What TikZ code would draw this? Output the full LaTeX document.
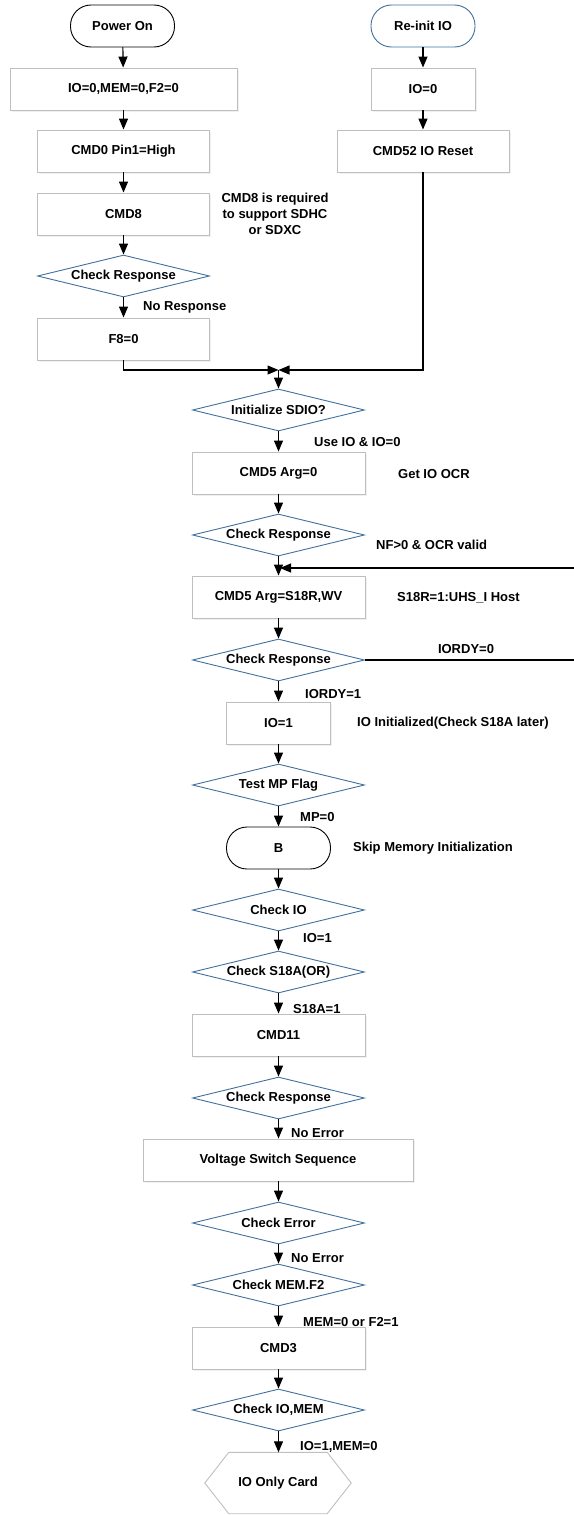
\documentclass[tikz,border=0pt]{standalone}
\usepackage{fontspec}
\setmainfont{Liberation Sans}
\usetikzlibrary{arrows.meta,shapes.geometric,shadows}
\definecolor{boxgray}{HTML}{BFBFBF}
\definecolor{dblue}{HTML}{41719C}
\tikzset{
  txt/.style={font=\bfseries\fontsize{13}{16}\selectfont, inner sep=0pt},
  proc/.style={txt, draw=boxgray, line width=0.9pt, fill=white, minimum height=42pt,
    drop shadow={shadow xshift=1.5pt, shadow yshift=-1.5pt, opacity=0.12}},
  term/.style={txt, draw=black, line width=0.9pt, fill=white, rounded corners=20.5pt,
    minimum width=104pt, minimum height=42pt},
  dec/.style={txt, shape=diamond, draw=dblue, line width=0.9pt, fill=white,
    minimum width=172pt, minimum height=42pt, aspect=4.1},
  lbl/.style={txt, anchor=west},
  arr/.style={line width=1.2pt, -{Triangle[length=11pt,width=9pt]}},
  conn/.style={line width=1.2pt}
}
\begin{document}
\begin{tikzpicture}[x=1pt,y=-1pt]
\useasboundingbox (0,0) rectangle (573,1515);

% left column
\node[term] (po) at (122.5,26) {Power On};
\node[proc, minimum width=227pt] (init) at (123.5,89) {IO=0,MEM=0,F2=0};
\node[proc, minimum width=172pt] (cmd0) at (123.5,151) {CMD0 Pin1=High};
\node[proc, minimum width=172pt] (cmd8) at (123.5,214) {CMD8};
\node[dec] (cr1) at (123.5,276) {Check Response};
\node[proc, minimum width=172pt] (f8) at (123.5,339) {F8=0};

% right column
\node[term, draw=dblue] (reinit) at (423,26) {Re-init IO};
\node[proc, minimum width=104pt] (io0) at (423,89) {IO=0};
\node[proc, minimum width=172pt] (cmd52) at (423,151) {CMD52 IO Reset};

% main column
\node[dec] (isd) at (278.5,410) {Initialize SDIO?};
\node[proc, minimum width=173pt] (cmd5a) at (278.5,473) {CMD5 Arg=0};
\node[dec] (cr2) at (278.5,535) {Check Response};
\node[proc, minimum width=173pt] (cmd5b) at (278.5,597) {CMD5 Arg=S18R,WV};
\node[dec] (cr3) at (278.5,660) {Check Response};
\node[proc, minimum width=104pt] (io1) at (278.5,723) {IO=1};
\node[dec] (mp) at (278.5,785) {Test MP Flag};
\node[term] (b) at (278.5,848) {B};
\node[dec] (chkio) at (278.5,910) {Check IO};
\node[dec] (s18a) at (278.5,972) {Check S18A(OR)};
\node[proc, minimum width=173pt] (cmd11) at (278.5,1035) {CMD11};
\node[dec] (cr4) at (278.5,1098) {Check Response};
\node[proc, minimum width=270pt] (vss) at (278,1160) {Voltage Switch Sequence};
\node[dec] (chkerr) at (278.5,1223) {Check Error};
\node[dec] (mem) at (278.5,1285) {Check MEM.F2};
\node[proc, minimum width=173pt] (cmd3) at (278.5,1348) {CMD3};
\node[dec] (iomem) at (278.5,1410) {Check IO,MEM};
\node[txt, minimum width=146pt, minimum height=61pt] (hex) at (278,1483) {IO Only Card};
\draw[boxgray, line width=0.9pt] (hex.west) -- ([xshift=24pt]hex.north west)
  -- ([xshift=-24pt]hex.north east) -- (hex.east) -- ([xshift=-24pt]hex.south east)
  -- ([xshift=24pt]hex.south west) -- cycle;

% notes
\node[txt, align=center] (n8) at (275,214) {CMD8 is required\\to support SDHC\\or SDXC};
\node[lbl] (nocr) at (398,474) {Get IO OCR};
\node[lbl] (nuhs) at (397,598) {S18R=1:UHS\_I Host};
\node[lbl] (ninit) at (357,723) {IO Initialized(Check S18A later)};
\node[lbl] (nskip) at (353,848) {Skip Memory Initialization};

% connector labels
\node[lbl] (l1) at (143,307) {No Response};
\node[lbl] (l2) at (314,442) {Use IO \& IO=0};
\node[lbl] (l3) at (376,545) {NF>0 \& OCR valid};
\node[txt] (l4) at (466,649) {IORDY=0};
\node[lbl] (l5) at (305,694) {IORDY=1};
\node[lbl] (l6) at (300,817) {MP=0};
\node[lbl] (l7) at (303,938) {IO=1};
\node[lbl] (l8) at (293,1009) {S18A=1};
\node[lbl] (l9) at (291,1133) {No Error};
\node[lbl] (l10) at (291,1258) {No Error};
\node[lbl] (l11) at (303,1322) {MEM=0 or F2=1};
\node[lbl] (l12) at (300,1447) {IO=1,MEM=0};

% connectors
\draw[arr] (po) -- (init);
\draw[arr] (init) -- (cmd0);
\draw[arr] (cmd0) -- (cmd8);
\draw[arr] (cmd8) -- (cr1);
\draw[arr] (cr1) -- (f8);
\draw[arr] (reinit) -- (io0);
\draw[arr] (io0) -- (cmd52);
\coordinate (mg) at (278.5,370);
\draw[arr] (f8.south) |- (mg);
\draw[arr] (cmd52.south) |- (mg);
\draw[arr] (mg) -- (isd.north);
\draw[arr] (isd) -- (cmd5a);
\draw[arr] (cmd5a) -- (cr2);
\draw[arr] (cr2) -- (cmd5b);
\draw[arr] (cmd5b) -- (cr3);
\coordinate (loopx) at (585,0);
\coordinate (lp) at (280,568);
\draw[arr] (cr3.east) -- (cr3.east -| loopx) |- (lp);
\draw[arr] (cr3) -- (io1);
\draw[arr] (io1) -- (mp);
\draw[arr] (mp) -- (b);
\draw[arr] (b) -- (chkio);
\draw[arr] (chkio) -- (s18a);
\draw[arr] (s18a) -- (cmd11);
\draw[arr] (cmd11) -- (cr4);
\draw[arr] (cr4.south) -- (cr4.south |- vss.north);
\draw[arr] (vss.south -| chkerr.north) -- (chkerr.north);
\draw[arr] (chkerr) -- (mem);
\draw[arr] (mem) -- (cmd3);
\draw[arr] (cmd3) -- (iomem);
\draw[arr] (iomem.south) -- (iomem.south |- hex.north);
\end{tikzpicture}
\end{document}
